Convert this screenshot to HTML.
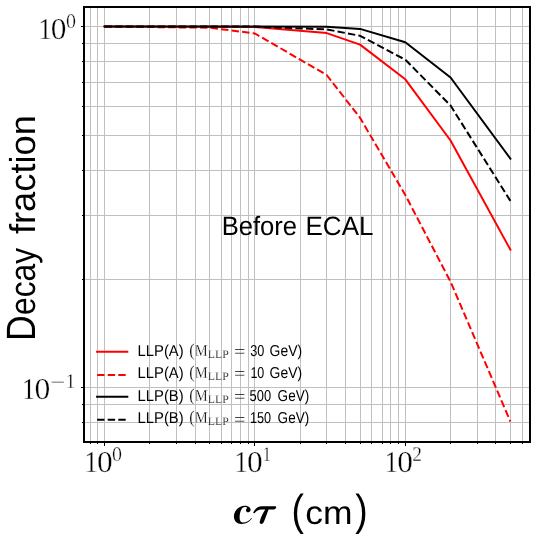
<!DOCTYPE html>
<html><head><meta charset="utf-8"><title>Decay fraction</title>
<style>html,body{margin:0;padding:0;background:#fff;}body{width:537px;height:537px;overflow:hidden;}svg{display:block;will-change:transform;}text{font-family:"Liberation Sans",sans-serif;fill:#000;text-rendering:geometricPrecision;}.s{font-family:"Liberation Serif",serif;}</style>
</head><body>
<svg width="537" height="537" viewBox="0 0 537 537">
<rect x="0" y="0" width="537" height="537" fill="#fff"/>
<g stroke="#c0c0c0" stroke-width="1" shape-rendering="crispEdges">
<line x1="90.5" y1="7" x2="90.5" y2="442"/>
<line x1="97.5" y1="7" x2="97.5" y2="442"/>
<line x1="104.5" y1="7" x2="104.5" y2="442"/>
<line x1="149.5" y1="7" x2="149.5" y2="442"/>
<line x1="176.5" y1="7" x2="176.5" y2="442"/>
<line x1="195.5" y1="7" x2="195.5" y2="442"/>
<line x1="209.5" y1="7" x2="209.5" y2="442"/>
<line x1="221.5" y1="7" x2="221.5" y2="442"/>
<line x1="231.5" y1="7" x2="231.5" y2="442"/>
<line x1="240.5" y1="7" x2="240.5" y2="442"/>
<line x1="248.5" y1="7" x2="248.5" y2="442"/>
<line x1="254.5" y1="7" x2="254.5" y2="442"/>
<line x1="300.5" y1="7" x2="300.5" y2="442"/>
<line x1="326.5" y1="7" x2="326.5" y2="442"/>
<line x1="345.5" y1="7" x2="345.5" y2="442"/>
<line x1="360.5" y1="7" x2="360.5" y2="442"/>
<line x1="371.5" y1="7" x2="371.5" y2="442"/>
<line x1="382.5" y1="7" x2="382.5" y2="442"/>
<line x1="390.5" y1="7" x2="390.5" y2="442"/>
<line x1="398.5" y1="7" x2="398.5" y2="442"/>
<line x1="405.5" y1="7" x2="405.5" y2="442"/>
<line x1="450.5" y1="7" x2="450.5" y2="442"/>
<line x1="477.5" y1="7" x2="477.5" y2="442"/>
<line x1="495.5" y1="7" x2="495.5" y2="442"/>
<line x1="510.5" y1="7" x2="510.5" y2="442"/>
<line x1="522.5" y1="7" x2="522.5" y2="442"/>
<line x1="84" y1="279.5" x2="530" y2="279.5"/>
<line x1="84" y1="215.5" x2="530" y2="215.5"/>
<line x1="84" y1="170.5" x2="530" y2="170.5"/>
<line x1="84" y1="135.5" x2="530" y2="135.5"/>
<line x1="84" y1="106.5" x2="530" y2="106.5"/>
<line x1="84" y1="82.5" x2="530" y2="82.5"/>
<line x1="84" y1="61.5" x2="530" y2="61.5"/>
<line x1="84" y1="43.5" x2="530" y2="43.5"/>
<line x1="84" y1="26.5" x2="530" y2="26.5"/>
<line x1="84" y1="387.5" x2="530" y2="387.5"/>
<line x1="84" y1="404.5" x2="530" y2="404.5"/>
<line x1="84" y1="422.5" x2="530" y2="422.5"/>
</g>
<g stroke="#000" stroke-width="1" shape-rendering="crispEdges">
<line x1="90.5" y1="442" x2="90.5" y2="444"/>
<line x1="97.5" y1="442" x2="97.5" y2="444"/>
<line x1="104.5" y1="442" x2="104.5" y2="446"/>
<line x1="149.5" y1="442" x2="149.5" y2="444"/>
<line x1="176.5" y1="442" x2="176.5" y2="444"/>
<line x1="195.5" y1="442" x2="195.5" y2="444"/>
<line x1="209.5" y1="442" x2="209.5" y2="444"/>
<line x1="221.5" y1="442" x2="221.5" y2="444"/>
<line x1="231.5" y1="442" x2="231.5" y2="444"/>
<line x1="240.5" y1="442" x2="240.5" y2="444"/>
<line x1="248.5" y1="442" x2="248.5" y2="444"/>
<line x1="254.5" y1="442" x2="254.5" y2="446"/>
<line x1="300.5" y1="442" x2="300.5" y2="444"/>
<line x1="326.5" y1="442" x2="326.5" y2="444"/>
<line x1="345.5" y1="442" x2="345.5" y2="444"/>
<line x1="360.5" y1="442" x2="360.5" y2="444"/>
<line x1="371.5" y1="442" x2="371.5" y2="444"/>
<line x1="382.5" y1="442" x2="382.5" y2="444"/>
<line x1="390.5" y1="442" x2="390.5" y2="444"/>
<line x1="398.5" y1="442" x2="398.5" y2="444"/>
<line x1="405.5" y1="442" x2="405.5" y2="446"/>
<line x1="450.5" y1="442" x2="450.5" y2="444"/>
<line x1="477.5" y1="442" x2="477.5" y2="444"/>
<line x1="495.5" y1="442" x2="495.5" y2="444"/>
<line x1="510.5" y1="442" x2="510.5" y2="444"/>
<line x1="522.5" y1="442" x2="522.5" y2="444"/>
<line x1="82" y1="279.5" x2="84" y2="279.5"/>
<line x1="82" y1="215.5" x2="84" y2="215.5"/>
<line x1="82" y1="170.5" x2="84" y2="170.5"/>
<line x1="82" y1="135.5" x2="84" y2="135.5"/>
<line x1="82" y1="106.5" x2="84" y2="106.5"/>
<line x1="82" y1="82.5" x2="84" y2="82.5"/>
<line x1="82" y1="61.5" x2="84" y2="61.5"/>
<line x1="82" y1="43.5" x2="84" y2="43.5"/>
<line x1="81" y1="26.5" x2="84" y2="26.5"/>
<line x1="81" y1="387.5" x2="84" y2="387.5"/>
<line x1="82" y1="404.5" x2="84" y2="404.5"/>
<line x1="82" y1="422.5" x2="84" y2="422.5"/>
</g>
<polyline points="104.60,26.60 209.69,26.80 254.95,27.00 326.69,33.10 360.04,44.60 405.30,79.30 450.56,140.50 510.39,249.70" fill="none" stroke="#ff0000" stroke-width="2" stroke-linejoin="round" stroke-linecap="square"/>
<polyline points="104.60,26.60 209.69,27.70 254.95,33.50 326.69,75.00 360.04,117.80 405.30,195.00 450.56,281.80 510.39,421.50" fill="none" stroke="#ff0000" stroke-width="2" stroke-linejoin="round" stroke-dasharray="7.4 3.2"/>
<polyline points="104.60,26.50 209.69,26.50 254.95,26.50 326.69,26.80 360.04,28.90 405.30,42.30 450.56,77.50 510.39,158.70" fill="none" stroke="#000000" stroke-width="2" stroke-linejoin="round" stroke-linecap="square"/>
<polyline points="104.60,26.50 209.69,26.50 254.95,26.60 326.69,29.40 360.04,35.80 405.30,59.70 450.56,105.50 510.39,200.90" fill="none" stroke="#000000" stroke-width="2" stroke-linejoin="round" stroke-dasharray="7.4 3.2"/>
<rect x="84" y="7" width="446" height="435" fill="none" stroke="#000" stroke-width="2" shape-rendering="crispEdges"/>
<line x1="96.1" y1="351.7" x2="128.3" y2="351.7" stroke="#ff0000" stroke-width="2"/>
<line x1="97.1" y1="374.9" x2="126.5" y2="374.9" stroke="#ff0000" stroke-width="2" stroke-dasharray="7.4 3.2"/>
<line x1="96.1" y1="396.7" x2="128.3" y2="396.7" stroke="#000" stroke-width="2"/>
<line x1="97.1" y1="419.8" x2="126.5" y2="419.8" stroke="#000" stroke-width="2" stroke-dasharray="7.4 3.2"/>
<text transform="translate(137.57,356.00) scale(0.9366,1.0000)" font-size="15.8">LLP(A)</text>
<text class="s" transform="translate(189.15,356.10) scale(0.8974,1.0000)" font-size="18.0" fill="#111" stroke="#fff" stroke-width="0.2" paint-order="fill stroke">(</text>
<text class="s" transform="translate(194.76,356.00) scale(0.8678,1.0000)" font-size="16.8" fill="#111" stroke="#fff" stroke-width="0.3" paint-order="fill stroke">M</text>
<text class="s" transform="translate(207.85,358.00) scale(1.0221,1.0000)" font-size="11.5" fill="#111" stroke="#fff" stroke-width="0.2" paint-order="fill stroke">LLP</text>
<text class="s" transform="translate(233.89,357.30) scale(1.1890,1.0000)" font-size="17" fill="#111" stroke="#fff" stroke-width="0.2" paint-order="fill stroke">=</text>
<text transform="translate(250.19,356.00) scale(0.8050,1.0000)" font-size="15.8">30</text>
<text transform="translate(269.60,356.00) scale(0.8809,1.0000)" font-size="15.8">GeV)</text>
<text transform="translate(137.57,377.90) scale(0.9366,1.0000)" font-size="15.8">LLP(A)</text>
<text class="s" transform="translate(189.15,378.00) scale(0.8974,1.0000)" font-size="18.0" fill="#111" stroke="#fff" stroke-width="0.2" paint-order="fill stroke">(</text>
<text class="s" transform="translate(194.76,377.90) scale(0.8678,1.0000)" font-size="16.8" fill="#111" stroke="#fff" stroke-width="0.3" paint-order="fill stroke">M</text>
<text class="s" transform="translate(207.85,379.90) scale(1.0221,1.0000)" font-size="11.5" fill="#111" stroke="#fff" stroke-width="0.2" paint-order="fill stroke">LLP</text>
<text class="s" transform="translate(233.89,379.20) scale(1.1890,1.0000)" font-size="17" fill="#111" stroke="#fff" stroke-width="0.2" paint-order="fill stroke">=</text>
<text transform="translate(250.40,377.90) scale(0.7927,1.0000)" font-size="15.8">10</text>
<text transform="translate(269.60,377.90) scale(0.8809,1.0000)" font-size="15.8">GeV)</text>
<text transform="translate(137.57,400.80) scale(0.9366,1.0000)" font-size="15.8">LLP(B)</text>
<text class="s" transform="translate(189.15,400.90) scale(0.8974,1.0000)" font-size="18.0" fill="#111" stroke="#fff" stroke-width="0.2" paint-order="fill stroke">(</text>
<text class="s" transform="translate(194.76,400.80) scale(0.8678,1.0000)" font-size="16.8" fill="#111" stroke="#fff" stroke-width="0.3" paint-order="fill stroke">M</text>
<text class="s" transform="translate(207.85,402.80) scale(1.0221,1.0000)" font-size="11.5" fill="#111" stroke="#fff" stroke-width="0.2" paint-order="fill stroke">LLP</text>
<text class="s" transform="translate(233.89,402.10) scale(1.1890,1.0000)" font-size="17" fill="#111" stroke="#fff" stroke-width="0.2" paint-order="fill stroke">=</text>
<text transform="translate(249.58,400.80) scale(0.8160,1.0000)" font-size="15.8">500</text>
<text transform="translate(277.62,400.80) scale(0.8553,1.0000)" font-size="15.8">GeV)</text>
<text transform="translate(137.57,423.30) scale(0.9366,1.0000)" font-size="15.8">LLP(B)</text>
<text class="s" transform="translate(189.15,423.40) scale(0.8974,1.0000)" font-size="18.0" fill="#111" stroke="#fff" stroke-width="0.2" paint-order="fill stroke">(</text>
<text class="s" transform="translate(194.76,423.30) scale(0.8678,1.0000)" font-size="16.8" fill="#111" stroke="#fff" stroke-width="0.3" paint-order="fill stroke">M</text>
<text class="s" transform="translate(207.85,425.30) scale(1.0221,1.0000)" font-size="11.5" fill="#111" stroke="#fff" stroke-width="0.2" paint-order="fill stroke">LLP</text>
<text class="s" transform="translate(233.89,424.60) scale(1.1890,1.0000)" font-size="17" fill="#111" stroke="#fff" stroke-width="0.2" paint-order="fill stroke">=</text>
<text transform="translate(249.88,423.30) scale(0.8044,1.0000)" font-size="15.8">150</text>
<text transform="translate(277.62,423.30) scale(0.8553,1.0000)" font-size="15.8">GeV)</text>
<text transform="translate(221.65,234.80) scale(0.9661,1.0000)" font-size="26.5">Before</text>
<text transform="translate(305.52,234.80) scale(0.9811,1.0000)" font-size="26.5">ECAL</text>
<text class="s" transform="translate(38.13,38.90) scale(0.9082,1.0000)" font-size="30.2" stroke="#fff" stroke-width="0.35" paint-order="fill stroke">1</text>
<text class="s" transform="translate(50.84,38.60) scale(1.0407,1.0000)" font-size="30.2" stroke="#fff" stroke-width="0.35" paint-order="fill stroke">0</text>
<text class="s" transform="translate(66.00,27.50) scale(0.9569,1.0000)" font-size="20.9" stroke="#fff" stroke-width="0.35" paint-order="fill stroke">0</text>
<text class="s" transform="translate(21.73,399.00) scale(0.9082,1.0000)" font-size="30.2" stroke="#fff" stroke-width="0.35" paint-order="fill stroke">1</text>
<text class="s" transform="translate(34.53,398.70) scale(1.0486,1.0000)" font-size="30.2" stroke="#fff" stroke-width="0.35" paint-order="fill stroke">0</text>
<text class="s" transform="translate(50.26,389.10) scale(1.2827,1.0000)" font-size="20.9" stroke="#fff" stroke-width="0.35" paint-order="fill stroke">−</text>
<text class="s" transform="translate(65.60,387.80) scale(0.9569,1.0000)" font-size="20.9" stroke="#fff" stroke-width="0.35" paint-order="fill stroke">1</text>
<text class="s" transform="translate(84.23,472.00) scale(0.9082,1.0000)" font-size="30.2" stroke="#fff" stroke-width="0.35" paint-order="fill stroke">1</text>
<text class="s" transform="translate(96.94,471.70) scale(1.0407,1.0000)" font-size="30.2" stroke="#fff" stroke-width="0.35" paint-order="fill stroke">0</text>
<text class="s" transform="translate(112.10,460.60) scale(0.9569,1.0000)" font-size="20.9" stroke="#fff" stroke-width="0.35" paint-order="fill stroke">0</text>
<text class="s" transform="translate(234.23,472.00) scale(0.9082,1.0000)" font-size="30.2" stroke="#fff" stroke-width="0.35" paint-order="fill stroke">1</text>
<text class="s" transform="translate(246.94,471.70) scale(1.0407,1.0000)" font-size="30.2" stroke="#fff" stroke-width="0.35" paint-order="fill stroke">0</text>
<text class="s" transform="translate(262.35,460.60) scale(0.8749,1.0000)" font-size="20.9" stroke="#fff" stroke-width="0.35" paint-order="fill stroke">1</text>
<text class="s" transform="translate(384.43,472.00) scale(0.9082,1.0000)" font-size="30.2" stroke="#fff" stroke-width="0.35" paint-order="fill stroke">1</text>
<text class="s" transform="translate(397.14,471.70) scale(1.0407,1.0000)" font-size="30.2" stroke="#fff" stroke-width="0.35" paint-order="fill stroke">0</text>
<text class="s" transform="translate(412.32,460.60) scale(0.9330,1.0000)" font-size="20.9" stroke="#fff" stroke-width="0.35" paint-order="fill stroke">2</text>
<text transform="translate(35.3,341.05) rotate(-90) scale(0.8702,1.0)" font-size="40.9">D</text>
<text transform="translate(35.3,315.07) rotate(-90) scale(0.8843,1.0)" font-size="36.0">ecay</text>
<text transform="translate(35.3,234.06) rotate(-90) scale(1.0078,1.0)" font-size="36.0">fraction</text>
<path d="M251.8 518.6 C250 521.5 246.5 524 241.5 524 C237 524 233.9 521 233.9 516.5 C233.9 510.5 239 505.7 244.8 505.7 C248 505.7 250.6 507.3 250.6 509.8 C250.6 511.3 249.6 512.3 248.2 512.3 C246.9 512.3 246 511.4 246 510.2 C246 509 246.8 508.3 247.3 507.9 C246.8 507.2 245.8 506.9 244.8 506.9 C241.5 506.9 239.6 512.5 239.6 517.5 C239.6 520.8 240.8 522.6 243 522.6 C246.5 522.6 249.3 520.6 251.2 518.2 C251.5 517.9 252.1 518.2 251.8 518.6 Z" fill="#000"/>
<path d="M253.3 512.6 C254.5 509.5 257.5 506.2 262 506.2 L275.6 506.2 C276.4 506.2 276.3 507.2 275.9 507.9 C275.3 508.9 274.5 509.5 273.5 509.5 L268.5 509.5 C267.4 513 265.4 518 264.0 521.6 C263.4 523.2 262.6 524 261.4 524 C260 524 259.4 522.9 259.8 521.4 C260.9 517 263.2 512.6 265.3 509.5 L261.5 509.5 C258.6 509.5 256.6 510.8 254.7 513 C254.2 513.5 253 513.4 253.3 512.6 Z" fill="#000"/>
<text transform="translate(291.46,525.00) scale(0.8557,1.0000)" font-size="43.6">(</text>
<text transform="translate(305.28,523.60) scale(1.0774,1.0000)" font-size="32.9">cm</text>
<text transform="translate(355.13,525.00) scale(0.8557,1.0000)" font-size="43.6">)</text>
</svg></body></html>
